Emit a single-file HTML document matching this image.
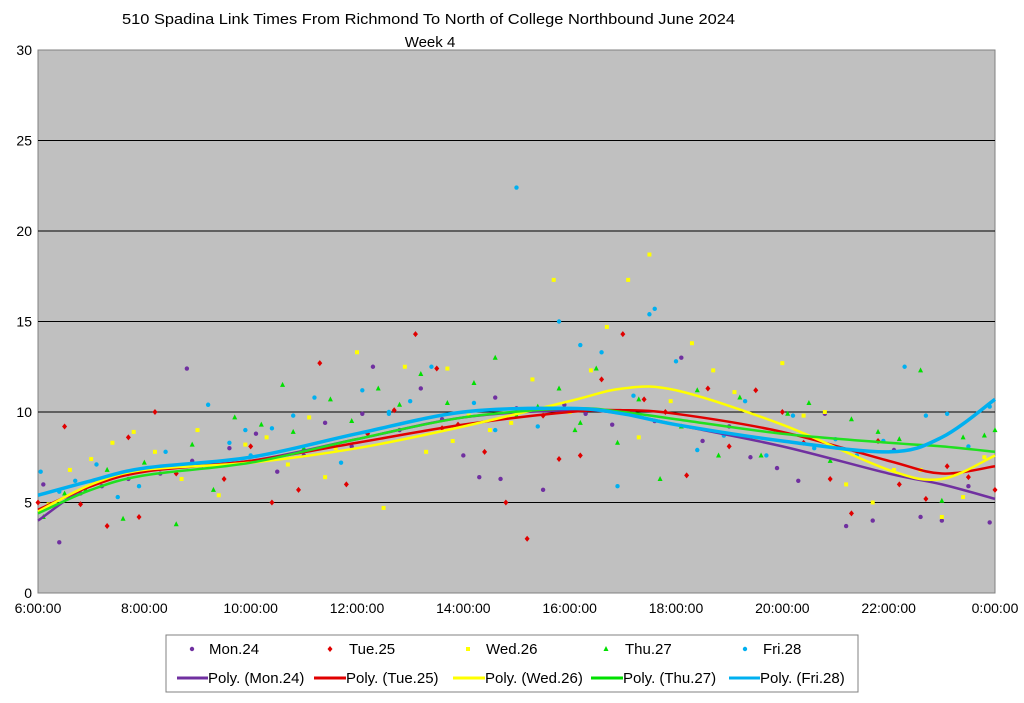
<!DOCTYPE html>
<html><head><meta charset="utf-8">
<style>
body{margin:0;background:#fff;width:1024px;height:698px;overflow:hidden;font-family:"Liberation Sans",Arial,sans-serif;}
svg text{font-family:"Liberation Sans",Arial,sans-serif;}
</style></head>
<body>
<svg id="chart" width="1024" height="698">
<text x="122" y="24" font-size="15" textLength="613" lengthAdjust="spacingAndGlyphs">510 Spadina Link Times From Richmond To North of College Northbound June 2024</text>
<text x="430" y="47" font-size="15" text-anchor="middle">Week 4</text>
<rect x="38" y="50" width="957" height="543" fill="#c0c0c0" stroke="#808080"/>
<g id="grid"></g><g id="ticks"></g><g id="pts"></g><g id="trends"></g>
<g>
<rect x="166" y="635" width="692" height="57" fill="#fff" stroke="#808080"/>
<g id="leg"></g>
</g>
</svg>
<script>
// Data
const yTicks=[0,5,10,15,20,25,30];
const xTickLabels=["6:00:00","8:00:00","10:00:00","12:00:00","14:00:00","16:00:00","18:00:00","20:00:00","22:00:00","0:00:00"];
const seriesNames=["Mon.24","Tue.25","Wed.26","Thu.27","Fri.28"];
const trendHours=[0,1,2,4,6,8,10,11,12,14,16,17,18];
const trendMon=[4.0,6.0,6.8,7.3,8.5,9.7,10.1,9.9,9.3,8.1,6.6,6.0,5.2];
const trendTue=[4.6,5.9,6.7,7.3,8.3,9.3,10.0,10.1,9.9,8.9,7.3,6.6,7.0];
const trendWed=[4.5,6.0,6.8,7.2,8.0,9.2,10.6,11.3,11.2,9.3,6.8,6.3,7.6];
const trendThu=[4.4,5.7,6.5,7.2,8.5,9.7,10.2,10.0,9.6,8.8,8.3,8.1,7.8];
const trendFri=[5.4,6.2,6.9,7.5,8.8,10.0,10.2,9.9,9.3,8.4,7.8,8.6,10.7];
const monH=[0.1,0.4,0.8,1.2,1.7,2.3,2.8,3.2,3.6,4.1,4.5,5.0,5.4,5.9,6.3,6.8,7.2,7.6,8.0,8.3,8.7,9.0,9.5,9.9,10.3,10.8,11.2,11.6,12.1,12.5,13.0,13.4,13.9,14.3,14.8,15.2,15.7,16.1,16.6,17.0,17.5,17.9,2.9,6.1,8.6];
const monV=[6.0,2.8,5.5,5.9,6.3,6.6,12.4,7.1,8.0,8.8,6.7,7.6,9.4,8.1,12.5,9.0,11.3,9.6,7.6,6.4,6.3,10.2,5.7,10.4,9.9,9.3,10.0,9.5,13.0,8.4,9.2,7.5,6.9,6.2,9.9,3.7,4.0,7.9,4.2,4.0,5.9,3.9,7.3,9.9,10.8];
const tueH=[0.0,0.5,0.8,1.3,1.9,2.2,2.6,3.1,3.5,4.0,4.4,4.9,5.3,5.8,6.2,6.7,7.1,7.6,7.9,8.4,8.8,9.2,9.5,9.8,10.2,10.6,11.0,11.4,11.8,12.2,12.6,13.0,13.5,14.0,14.4,14.9,15.3,15.8,16.2,16.7,17.1,17.5,18.0,1.7,7.5];
const tueV=[5.0,9.2,4.9,3.7,4.2,10.0,6.6,7.1,6.3,8.1,5.0,5.7,12.7,6.0,8.8,10.1,14.3,9.1,9.3,7.8,5.0,3.0,9.8,7.4,7.6,11.8,14.3,10.7,10.0,6.5,11.3,8.1,11.2,10.0,8.3,6.3,4.4,8.4,6.0,5.2,7.0,6.4,5.7,8.6,12.4];
const wedH=[0.2,0.6,1.0,1.4,1.8,2.2,2.7,3.0,3.4,3.9,4.3,4.7,5.1,5.6,6.0,6.5,6.9,7.3,7.7,8.1,8.5,8.9,9.3,9.7,10.0,10.4,10.7,11.1,11.3,11.5,11.9,12.3,12.7,13.1,13.5,14.0,14.4,14.8,15.2,15.7,16.1,16.6,17.0,17.4,17.8,5.4,7.8];
const wedV=[4.9,6.8,7.4,8.3,8.9,7.8,6.3,9.0,5.4,8.2,8.6,7.1,9.7,8.0,13.3,4.7,12.5,7.8,12.4,9.8,9.0,9.4,11.8,17.3,10.0,12.3,14.7,17.3,8.6,18.7,10.6,13.8,12.3,11.1,8.5,12.7,9.8,10.0,6.0,5.0,6.8,6.8,4.2,5.3,7.5,6.4,8.4];
const thuH=[0.1,0.5,0.9,1.3,1.6,2.0,2.6,2.9,3.3,3.7,4.2,4.6,5.0,5.5,5.9,6.4,6.8,7.2,7.7,8.2,8.6,9.0,9.4,9.8,10.1,10.5,10.9,11.3,11.7,12.1,12.4,12.8,13.2,13.6,14.1,14.5,14.9,15.3,15.8,16.2,16.6,17.0,17.4,17.8,18.0,4.8,10.2];
const thuV=[4.2,5.5,5.7,6.8,4.1,7.2,3.8,8.2,5.7,9.7,9.3,11.5,8.0,10.7,9.5,11.3,10.4,12.1,10.5,11.6,13.0,9.8,10.3,11.3,9.0,12.4,8.3,10.7,6.3,9.2,11.2,7.6,10.8,7.6,9.9,10.5,7.3,9.6,8.9,8.5,12.3,5.1,8.6,8.7,9.0,8.9,9.4];
const friH=[0.05,0.4,0.7,1.1,1.5,1.9,2.4,2.8,3.2,3.6,4.0,4.4,4.8,5.2,5.7,6.1,6.6,7.0,7.4,9.0,9.8,8.2,10.2,8.6,10.6,11.6,11.5,9.4,11.2,10.9,12.0,12.4,12.9,13.3,13.7,14.2,14.6,15.0,15.4,15.9,16.3,16.7,17.1,17.5,17.9,3.9,6.6];
const friV=[6.7,5.6,6.2,7.1,5.3,5.9,7.8,7.0,10.4,8.3,7.6,9.1,9.8,10.8,7.2,11.2,9.9,10.6,12.5,22.4,15.0,10.5,13.7,9.0,13.3,15.7,15.4,9.2,10.9,5.9,12.8,7.9,8.7,10.6,7.6,9.8,8.0,8.5,7.6,8.4,12.5,9.8,9.9,8.1,10.3,9.0,10.0];

const svg="http://www.w3.org/2000/svg";
const X0=38,X1=995,Y0=593,Y1=50;
const xs=h=>X0+h*(X1-X0)/18;
const ys=v=>Y0-v*(Y0-Y1)/30;
function mk(tag,attrs,parent){const e=document.createElementNS(svg,tag);for(const k in attrs)e.setAttribute(k,attrs[k]);parent.appendChild(e);return e;}
const grid=document.getElementById('grid'),ticks=document.getElementById('ticks');
yTicks.forEach(v=>{
  if(v>0&&v<30){const l=mk('line',{x1:X0,x2:X1,y1:ys(v),y2:ys(v),stroke:'#000','stroke-width':1},grid);
  
  }
  const t=mk('text',{x:X0-6,y:ys(v)+5,'font-size':14,'text-anchor':'end'},ticks);t.textContent=v;
  
  
});
xTickLabels.forEach((lab,i)=>{
  const t=mk('text',{x:xs(i*2),y:613,'font-size':14,'text-anchor':'middle'},ticks);t.textContent=lab;
  
  
});
const colors=['#7030a0','#e00000','#ffff00','#00e000','#00b0f0'];
const ptsH=[monH,tueH,wedH,thuH,friH],ptsV=[monV,tueV,wedV,thuV,friV];
const trends=[trendMon,trendTue,trendWed,trendThu,trendFri];
function marker(si,x,y,g){
  const c=colors[si];
  if(si===0||si===4)return mk('circle',{cx:x,cy:y,r:2.2,fill:c},g);
  if(si===1)return mk('polygon',{points:`${x},${y-3} ${x+2.5},${y} ${x},${y+3} ${x-2.5},${y}`,fill:c},g);
  if(si===2)return mk('rect',{x:x-2,y:y-2,width:4,height:4,fill:c},g);
  return mk('polygon',{points:`${x},${y-3} ${x+2.5},${y+2} ${x-2.5},${y+2}`,fill:c},g);
}
const pg=document.getElementById('pts');
ptsH.forEach((H,si)=>{H.forEach((h,i)=>{
  const m=marker(si,xs(h),ys(ptsV[si][i]),pg);
  
  
});});
function smooth(P){let d=`M${P[0][0]},${P[0][1]}`;
  for(let i=0;i<P.length-1;i++){const p0=P[Math.max(0,i-1)],p1=P[i],p2=P[i+1],p3=P[Math.min(P.length-1,i+2)];
  d+=` C${p1[0]+(p2[0]-p0[0])/6},${p1[1]+(p2[1]-p0[1])/6} ${p2[0]-(p3[0]-p1[0])/6},${p2[1]-(p3[1]-p1[1])/6} ${p2[0]},${p2[1]}`;}
  return d;}
const tg=document.getElementById('trends');
const tw=[2.5,2.5,2.5,2.5,3.5];
trends.forEach((T,si)=>{
  const P=trendHours.map((h,i)=>[xs(h),ys(T[i])]);
  const p=mk('path',{d:smooth(P),fill:'none',stroke:colors[si]==='#00e000'?'#20e020':colors[si],'stroke-width':tw[si]},tg);
  
  
});
const leg=document.getElementById('leg');
const lx=[192,330,468,606,745];
const tx1=[209,349,486,625,763];
const lx2=[177,314,453,591,729];
const tx2=[208,346,485,623,760];
seriesNames.forEach((n,si)=>{
  const m=marker(si,lx[si],649,leg);
  
  
  const t=mk('text',{x:tx1[si],y:654,'font-size':15},leg);t.textContent=n;
  
  
  const l=mk('line',{x1:lx2[si],x2:tx2[si],y1:678,y2:678,stroke:colors[si],'stroke-width':3},leg);
  
  
  const t2=mk('text',{x:tx2[si],y:683,'font-size':15},leg);t2.textContent='Poly. ('+n+')';
  
  
});
</script>
</body></html>
